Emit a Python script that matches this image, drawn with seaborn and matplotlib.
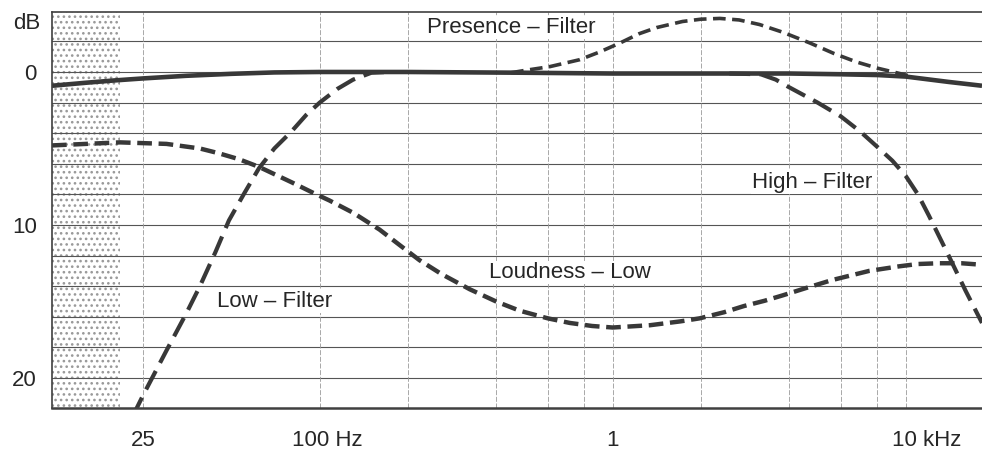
import numpy as np
import pandas as pd
import matplotlib
matplotlib.use("Agg")
import matplotlib.pyplot as plt
import matplotlib.transforms as mtransforms
import seaborn as sns

# ---------------- data ----------------
freq_main = [12.2, 16, 20, 25, 35, 50, 70, 100, 200, 500, 1000, 2000, 4000, 6000, 8000, 10000, 14000, 18200]
db_main = [0.9, 0.7, 0.55, 0.42, 0.25, 0.12, 0.03, 0.0, 0.0, 0.05, 0.1, 0.1, 0.1, 0.15, 0.2, 0.3, 0.65, 0.9]

freq_low = [23.0, 25, 30, 35, 39, 44, 49, 55, 62, 70, 80, 90, 100, 115, 130, 150, 170]
db_low = [22.5, 21.1, 18.2, 15.8, 14.0, 11.8, 9.7, 8.0, 6.3, 5.0, 3.9, 2.8, 2.0, 1.1, 0.5, 0.05, 0.0]

freq_high = [2500, 3200, 3600, 4000, 5000, 6000, 7000, 8000, 9000, 10000, 11000, 12000, 14000, 16000, 18200]
db_high = [0.1, 0.15, 0.5, 1.0, 2.0, 2.9, 3.9, 4.9, 5.8, 6.8, 8.0, 9.4, 12.0, 14.3, 16.4]

freq_pres = [450, 500, 610, 770, 900, 1060, 1230, 1410, 1730, 2000, 2320, 2700, 3170, 3800, 4700, 5700, 6800, 8000, 9300, 10500]
db_pres = [0.05, -0.1, -0.35, -0.8, -1.3, -1.9, -2.5, -2.9, -3.3, -3.45, -3.5, -3.4, -3.1, -2.6, -1.9, -1.2, -0.65, -0.25, 0.05, 0.3]

freq_loud = [12.2, 20.8, 30, 39, 45, 53, 62, 80, 95, 108, 130, 160, 190, 219, 260, 325, 400, 481,
             600, 713, 850, 1000, 1340, 1700, 1980, 2400, 2800, 3300, 3800, 4600, 5600, 7500,
             9500, 11000, 13000, 15500, 18200]
db_loud = [4.8, 4.6, 4.7, 5.0, 5.3, 5.7, 6.2, 7.2, 7.9, 8.4, 9.2, 10.3, 11.4, 12.3, 13.2, 14.2, 15.0, 15.6,
           16.1, 16.4, 16.6, 16.7, 16.55, 16.3, 16.1, 15.7, 15.3, 14.95, 14.6, 14.1, 13.6, 13.0,
           12.7, 12.55, 12.5, 12.5, 12.6]

xtick_pos = [25, 100, 1000, 10000]
xtick_labels = ["25", "100 Hz", "1", "10 kHz"]
ytick_pos = [-3.3, 0, 10, 20]
ytick_labels = ["dB", "0", "10", "20"]

hgrid = [-2, 0, 2, 4, 6, 8, 10, 12, 14, 16, 18, 20]
vgrid = [25, 100, 200, 400, 600, 800, 1000, 2000, 4000, 6000, 8000, 10000]

labels = [("Presence \u2013 Filter", 452, -2.9),
          ("High \u2013 Filter", 4800, 7.2),
          ("Loudness \u2013 Low", 713, 13.1),
          ("Low \u2013 Filter", 70, 15.0)]

# ---------------- style ----------------
sns.set_theme(style="white")
plt.rcParams["font.family"] = ["Liberation Sans", "DejaVu Sans"]
plt.rcParams["hatch.linewidth"] = 1.1
plt.rcParams["hatch.color"] = "#999999"

INK = "#383838"
TXT = "#262626"
fig = plt.figure(figsize=(9.82, 4.54), dpi=100)
ax = fig.add_axes([52 / 982, (454 - 408) / 454, 930 / 982, 396 / 454])
ax.set_xscale("log")
ax.set_xlim(12.2, 18200)
ax.set_ylim(21.96, -3.92)

# stippled region below 20 Hz
ax.axvspan(12.2, 20.8, facecolor="white", edgecolor="#999999", hatch="...", lw=0, zorder=0.5)

# grid
for g in hgrid:
    ax.axhline(g, color="#555555", lw=0.8, zorder=1)
for g in vgrid:
    ax.axvline(g, color="#9a9a9a", lw=0.6, ls=(0, (6, 2)), zorder=1)

def draw(fr, db, lw, dashes):
    df = pd.DataFrame({"f": fr, "dB": db})
    sns.lineplot(data=df, x="f", y="dB", ax=ax, color=INK, lw=lw, sort=False,
                 estimator=None, zorder=3)
    line = ax.lines[-1]
    if dashes is None:
        line.set_linestyle("-")
    else:
        line.set_linestyle((0, dashes))
    line.set_solid_capstyle("butt")
    line.set_dash_capstyle("butt")
    line.set_solid_joinstyle("round")
    line.set_clip_on(True)

draw(freq_main, db_main, 3.3, None)
draw(freq_low, db_low, 3.0, (5, 2.2))
draw(freq_high, db_high, 3.0, (5, 2.2))
draw(freq_pres, db_pres, 2.6, (3.5, 1.8))
draw(freq_loud, db_loud, 3.2, (3.3, 1.5))

for txt, fx, fy in labels:
    ax.text(fx, fy, txt, ha="center", va="center", fontsize=16, color=TXT, zorder=4,
            bbox=dict(facecolor="white", edgecolor="none", pad=1.0))

# axes
ax.set_xticks(xtick_pos)
ax.set_xticklabels(xtick_labels)
ax.set_xticks([], minor=True)
ax.set_yticks(ytick_pos)
ax.set_yticklabels(ytick_labels)
ax.tick_params(axis="x", length=0, pad=16, labelsize=16, labelcolor=TXT)
ax.tick_params(axis="y", length=0, pad=11, labelsize=16, labelcolor=TXT)
offsets = [0, 8, 0, 21]
for lab, off in zip(ax.get_xticklabels(), offsets):
    lab.set_transform(lab.get_transform() + mtransforms.ScaledTranslation(off / 100, 0, fig.dpi_scale_trans))
ax.get_yticklabels()[0].set_transform(ax.get_yticklabels()[0].get_transform()
                                     + mtransforms.ScaledTranslation(4 / 100, 0, fig.dpi_scale_trans))
ax.set_xlabel("")
ax.set_ylabel("")

ax.spines["right"].set_visible(False)
for s, w in [("top", 1.2), ("left", 1.2), ("bottom", 1.8)]:
    ax.spines[s].set_color("#404040")
    ax.spines[s].set_linewidth(w)
    ax.spines[s].set_zorder(5)

fig.savefig("out.png", dpi=100, facecolor="white")
